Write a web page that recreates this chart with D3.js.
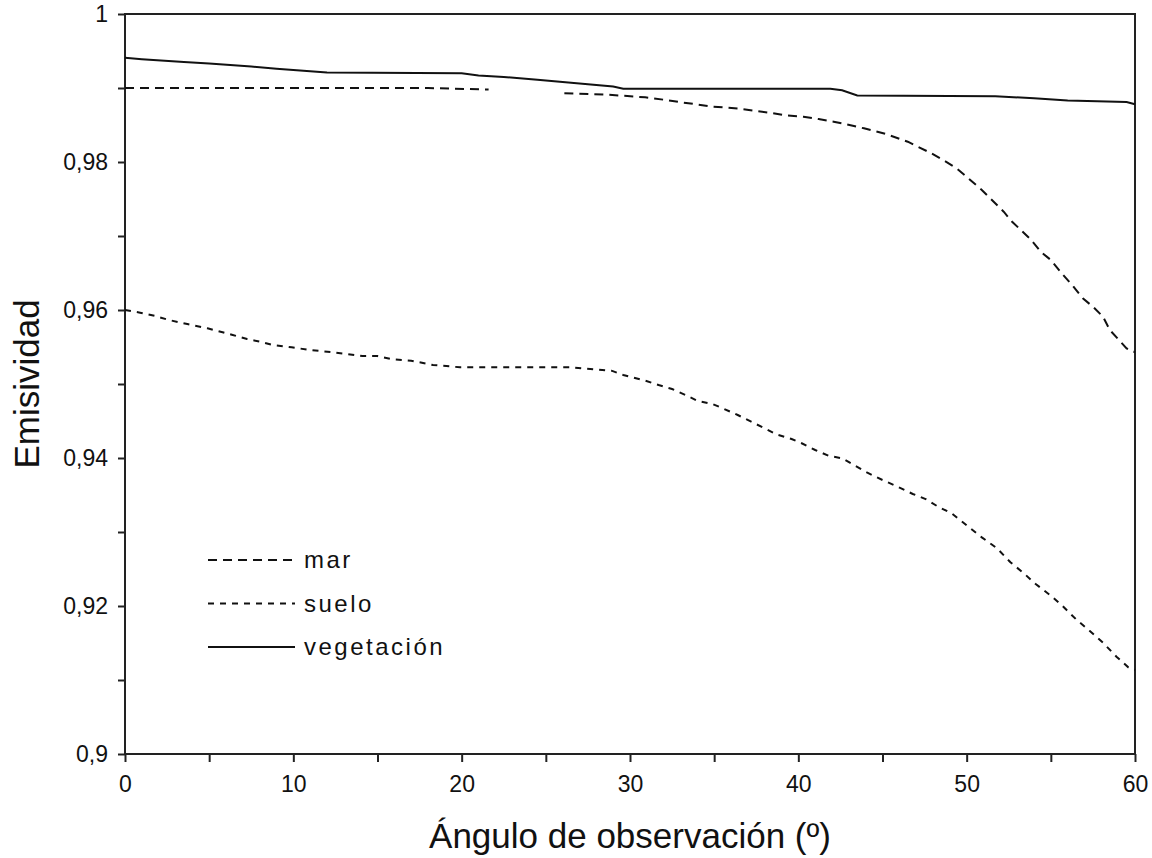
<!DOCTYPE html>
<html>
<head>
<meta charset="utf-8">
<script src="https://cdn.jsdelivr.net/npm/d3@7"></script>
<style>
  html, body { margin: 0; padding: 0; background: #fff; }
  svg text { font-family: "Liberation Sans", Arial, sans-serif; fill: #111; }
</style>
</head>
<body>
<div id="chart"></div>
<script>
// datos: [ángulo, emisividad]
const mar = [
  [0, 0.9900], [18, 0.9900], [21.6, 0.9898], [21.7, null],
  [26.1, 0.9893], [28.7, 0.9891], [30.9, 0.98874], [32, 0.98842],
  [32.9, 0.98811], [33.8, 0.98784], [34.7, 0.98753], [36.5, 0.9872],
  [37.4, 0.98693], [38.3, 0.98666], [39.2, 0.98631], [40.3, 0.98612],
  [41.2, 0.98581], [42.1, 0.98545], [43.3, 0.98486], [43.9, 0.98455],
  [45.2, 0.98378], [46.5, 0.98274], [47.1, 0.98207], [47.9, 0.98118],
  [48.6, 0.98027], [49.4, 0.97915], [50.1, 0.9778], [50.9, 0.97622],
  [52.2, 0.97328], [52.7, 0.97193], [53.8, 0.96955], [54.4, 0.96788],
  [55.0, 0.96676], [55.7, 0.96482], [56.3, 0.96328], [56.9, 0.96157],
  [57.5, 0.96045], [58.1, 0.95909], [58.5, 0.9573], [59.5, 0.95482],
  [60, 0.9543]
];

const suelo = [
  [0, 0.9600], [0.9, 0.95964], [1.8, 0.95919], [2.6, 0.95865],
  [3.7, 0.95811], [4.9, 0.95753], [5.8, 0.95699], [6.4, 0.95662],
  [7.25, 0.95608], [8.0, 0.95572], [8.8, 0.95527], [9.9, 0.95496],
  [11.0, 0.95459], [12.4, 0.95428], [14.1, 0.95378], [15.0, 0.95378],
  [15.9, 0.95334], [17.0, 0.95315], [18.3, 0.95257], [19.9, 0.95226],
  [26.4, 0.95226], [28.9, 0.9518], [29.6, 0.95122], [30.9, 0.95045],
  [31.7, 0.94986], [32.5, 0.94932], [33.3, 0.94851], [34.0, 0.94774],
  [34.9, 0.9473], [35.6, 0.94662], [36.4, 0.94581], [37.2, 0.94491],
  [38.0, 0.94401], [38.7, 0.9432], [39.6, 0.94257], [40.2, 0.94199],
  [41.0, 0.94108], [41.8, 0.94031], [42.6, 0.93996], [43.4, 0.93892],
  [44.1, 0.93801], [45.0, 0.93703], [45.9, 0.93612], [46.8, 0.93514],
  [47.6, 0.93442], [48.3, 0.93342], [49.1, 0.93253], [50.1, 0.93072],
  [50.9, 0.92928], [51.8, 0.9278], [52.6, 0.92591], [53.4, 0.92441],
  [54.1, 0.92297], [55.0, 0.92139], [55.7, 0.9200], [56.5, 0.9182],
  [57.3, 0.91666], [58.1, 0.91504], [58.9, 0.91315], [59.6, 0.91172],
  [60, 0.91135]
];

const vegetacion = [
  [0, 0.9941], [1, 0.9939], [3.5, 0.9935], [5, 0.9933], [7.5, 0.9929],
  [9, 0.9926], [12, 0.9921], [20, 0.9920], [21, 0.9917], [22.5, 0.9915],
  [24.5, 0.9911], [26, 0.9908], [27.5, 0.9905], [29, 0.9902],
  [29.6, 0.9899], [41.9, 0.9899], [42.6, 0.9897], [43.5, 0.9890],
  [51.7, 0.9889], [54, 0.9886], [56, 0.9883], [59.5, 0.9881], [60, 0.9878]
];

const xTicks = d3.range(0, 61, 5);
const yTicks = d3.range(0, 11).map(i => +(0.9 + i * 0.01).toFixed(2));
const yLabels = ["0,9", "", "0,92", "", "0,94", "", "0,96", "", "0,98", "", "1"];
const xLabels = ["0", "", "10", "", "20", "", "30", "", "40", "", "50", "", "60"];

const series = [
  { name: "mar", data: mar, dash: "9,6" },
  { name: "suelo", data: suelo, dash: "6,6" },
  { name: "vegetación", data: vegetacion, dash: null }
];

const width = 1152, height = 858;
const margin = { left: 125, right: 17, top: 14, bottom: 104 };

const svg = d3.select('#chart')
  .append('svg')
  .attr('width', width)
  .attr('height', height);

const x = d3.scaleLinear().domain([0, 60]).range([margin.left, width - margin.right]);
const y = d3.scaleLinear().domain([0.9, 1]).range([height - margin.bottom, margin.top]);

// ejes
const xAxis = svg.append('g')
  .attr('transform', `translate(0,${height - margin.bottom})`)
  .call(d3.axisBottom(x).tickValues(xTicks).tickSize(8).tickPadding(14)
    .tickFormat((d, i) => xLabels[i]));
const yAxis = svg.append('g')
  .attr('transform', `translate(${margin.left},0)`)
  .call(d3.axisLeft(y).tickValues(yTicks).tickSize(7).tickPadding(10)
    .tickFormat((d, i) => yLabels[i]));

[xAxis, yAxis].forEach(g => {
  g.select('.domain').remove();
  g.selectAll('line').attr('stroke', '#222').attr('stroke-width', 2);
  g.selectAll('text').attr('font-size', 23).style('fill', '#111');
});

// marco
svg.append('rect')
  .attr('x', x(0)).attr('y', y(1))
  .attr('width', x(60) - x(0)).attr('height', y(0.9) - y(1))
  .attr('fill', 'none').attr('stroke', '#222').attr('stroke-width', 2);

// líneas
const line = d3.line()
  .defined(d => d[1] != null)
  .x(d => x(d[0]))
  .y(d => y(d[1]));

series.forEach(s => {
  svg.append('path')
    .datum(s.data)
    .attr('d', line)
    .attr('fill', 'none')
    .attr('stroke', '#111')
    .attr('stroke-width', 2)
    .attr('stroke-dasharray', s.dash);
});

// leyenda
const legend = svg.append('g');
series.forEach((s, i) => {
  const ly = 560 + i * 43.5;
  legend.append('line')
    .attr('x1', 208).attr('x2', 295)
    .attr('y1', ly).attr('y2', ly)
    .attr('stroke', '#111').attr('stroke-width', 2)
    .attr('stroke-dasharray', s.dash);
  legend.append('text')
    .attr('x', 304).attr('y', ly)
    .attr('dy', '0.35em')
    .attr('font-size', 24)
    .attr('letter-spacing', '2.5px')
    .text(s.name);
});

// títulos de ejes
svg.append('text')
  .attr('x', (x(0) + x(60)) / 2)
  .attr('y', 848)
  .attr('text-anchor', 'middle')
  .attr('font-size', 35)
  .text('Ángulo de observación (º)');

svg.append('text')
  .attr('transform', `translate(39,${(y(0.9) + y(1)) / 2}) rotate(-90)`)
  .attr('text-anchor', 'middle')
  .attr('font-size', 35)
  .text('Emisividad');
</script>
</body>
</html>
